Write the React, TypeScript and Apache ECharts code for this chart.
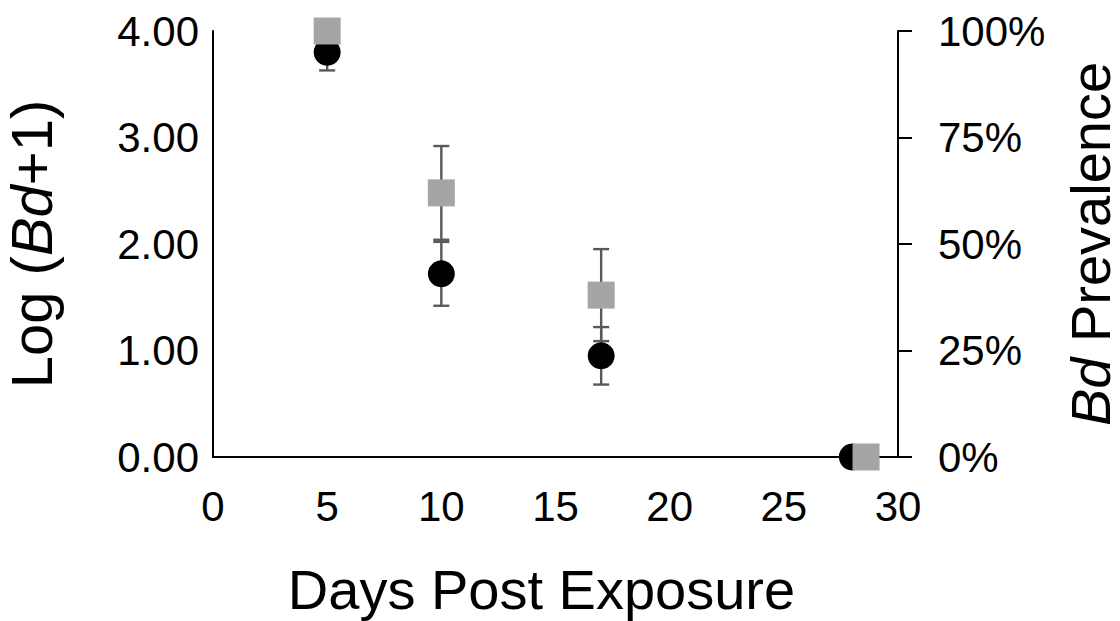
import React, { useEffect, useRef } from "react";
import * as echarts from "echarts";

const xTicks = [0, 5, 10, 15, 20, 25, 30];
const loadDays = [5, 10, 17, 28];
const loadMean = [3.8, 1.72, 0.95, 0];
const loadErr = [0.17, 0.3, 0.27, 0];
const prevDays = [5, 10, 17, 28.6];
const prevMean = [100, 62, 38, 0];
const prevErr = [0, 11, 10.8, 0];

const FONT = "'Liberation Sans', Arial, sans-serif";
const ERR_COLOR = "#595959";

function errSeries(days: number[], mean: number[], err: number[], yAxisIndex: number) {
  const data = days.map((d, i) => [d, mean[i] - err[i], mean[i] + err[i]]);
  return {
    type: "custom",
    yAxisIndex,
    silent: true,
    z: 1,
    data,
    renderItem: (params: any, api: any) => {
      const x = api.value(0);
      const lo = api.coord([x, api.value(1)]);
      const hi = api.coord([x, api.value(2)]);
      if (Math.abs(lo[1] - hi[1]) < 0.5) return { type: "group", children: [] };
      const w = 8;
      const style = { stroke: ERR_COLOR, lineWidth: 2.4 };
      return {
        type: "group",
        children: [
          { type: "line", shape: { x1: lo[0], y1: lo[1], x2: hi[0], y2: hi[1] }, style },
          { type: "line", shape: { x1: lo[0] - w, y1: lo[1], x2: lo[0] + w, y2: lo[1] }, style },
          { type: "line", shape: { x1: hi[0] - w, y1: hi[1], x2: hi[0] + w, y2: hi[1] }, style },
        ],
      };
    },
  };
}

export default function App() {
  const ref = useRef<HTMLDivElement>(null);
  useEffect(() => {
    if (!ref.current) return;
    const chart = echarts.init(ref.current, undefined, { renderer: "svg" });
    chart.setOption({
      animation: false,
      backgroundColor: "#ffffff",
      textStyle: { fontFamily: FONT },
      grid: { left: 213, right: 222, top: 31, bottom: 164, containLabel: false, outerBoundsMode: "none" },
      xAxis: {
        type: "value",
        min: xTicks[0],
        max: xTicks[xTicks.length - 1],
        interval: 5,
        splitLine: { show: false },
        axisTick: { show: false },
        axisLine: { show: true, onZero: false, lineStyle: { color: "#000", width: 2 } },
        axisLabel: { color: "#000", fontSize: 42, fontFamily: FONT, margin: 28 },
        name: "Days Post Exposure",
        nameLocation: "middle",
        nameGap: 104,
        nameTextStyle: { color: "#000", fontSize: 56, fontFamily: FONT, padding: [0, 28, 0, 0] },
      },
      yAxis: [
        {
          type: "value",
          min: 0,
          max: 4,
          interval: 1,
          splitLine: { show: false },
          axisTick: { show: false },
          axisLine: { show: true, lineStyle: { color: "#000", width: 2 } },
          axisLabel: {
            color: "#000",
            fontSize: 42,
            fontFamily: FONT,
            margin: 14,
            formatter: (v: number) => v.toFixed(2),
          },
          name: "{n|Log (}{i|Bd}{n|+1)}",
          nameLocation: "middle",
          nameRotate: 90,
          nameGap: 153,
          nameTextStyle: {
            rich: {
              n: { fontSize: 58, color: "#000", fontFamily: FONT },
              i: { fontSize: 58, color: "#000", fontFamily: FONT, fontStyle: "italic" },
            },
          },
        },
        {
          type: "value",
          min: 0,
          max: 100,
          interval: 25,
          position: "right",
          splitLine: { show: false },
          axisTick: { show: true, length: 14, inside: false, lineStyle: { color: "#000", width: 2 } },
          axisLine: { show: true, lineStyle: { color: "#000", width: 2 } },
          axisLabel: { color: "#000", fontSize: 42, fontFamily: FONT, margin: 40, formatter: "{value}%" },
          name: "{i|Bd}{n| Prevalence}",
          nameLocation: "middle",
          nameRotate: 90,
          nameGap: 164,
          nameTextStyle: {
            rich: {
              n: { fontSize: 56, color: "#000", fontFamily: FONT },
              i: { fontSize: 56, color: "#000", fontFamily: FONT, fontStyle: "italic" },
            },
          },
        },
      ],
      series: [
        errSeries(prevDays, prevMean, prevErr, 1),
        errSeries(loadDays, loadMean, loadErr, 0),
        {
          type: "scatter",
          yAxisIndex: 0,
          z: 3,
          symbol: "circle",
          symbolSize: 27,
          itemStyle: { color: "#000000", opacity: 1 },
          data: loadDays.map((d, i) => [d, loadMean[i]]),
        },
        {
          type: "scatter",
          yAxisIndex: 1,
          z: 4,
          symbol: "rect",
          symbolSize: 27,
          itemStyle: { color: "#a5a5a5", opacity: 1 },
          data: prevDays.map((d, i) => [d, prevMean[i]]),
        },
      ],
    });
    return () => chart.dispose();
  }, []);
  return (
    <div
      ref={ref}
      style={{ position: "absolute", left: 0, top: 0, width: 1120, height: 621, background: "#fff" }}
    />
  );
}
